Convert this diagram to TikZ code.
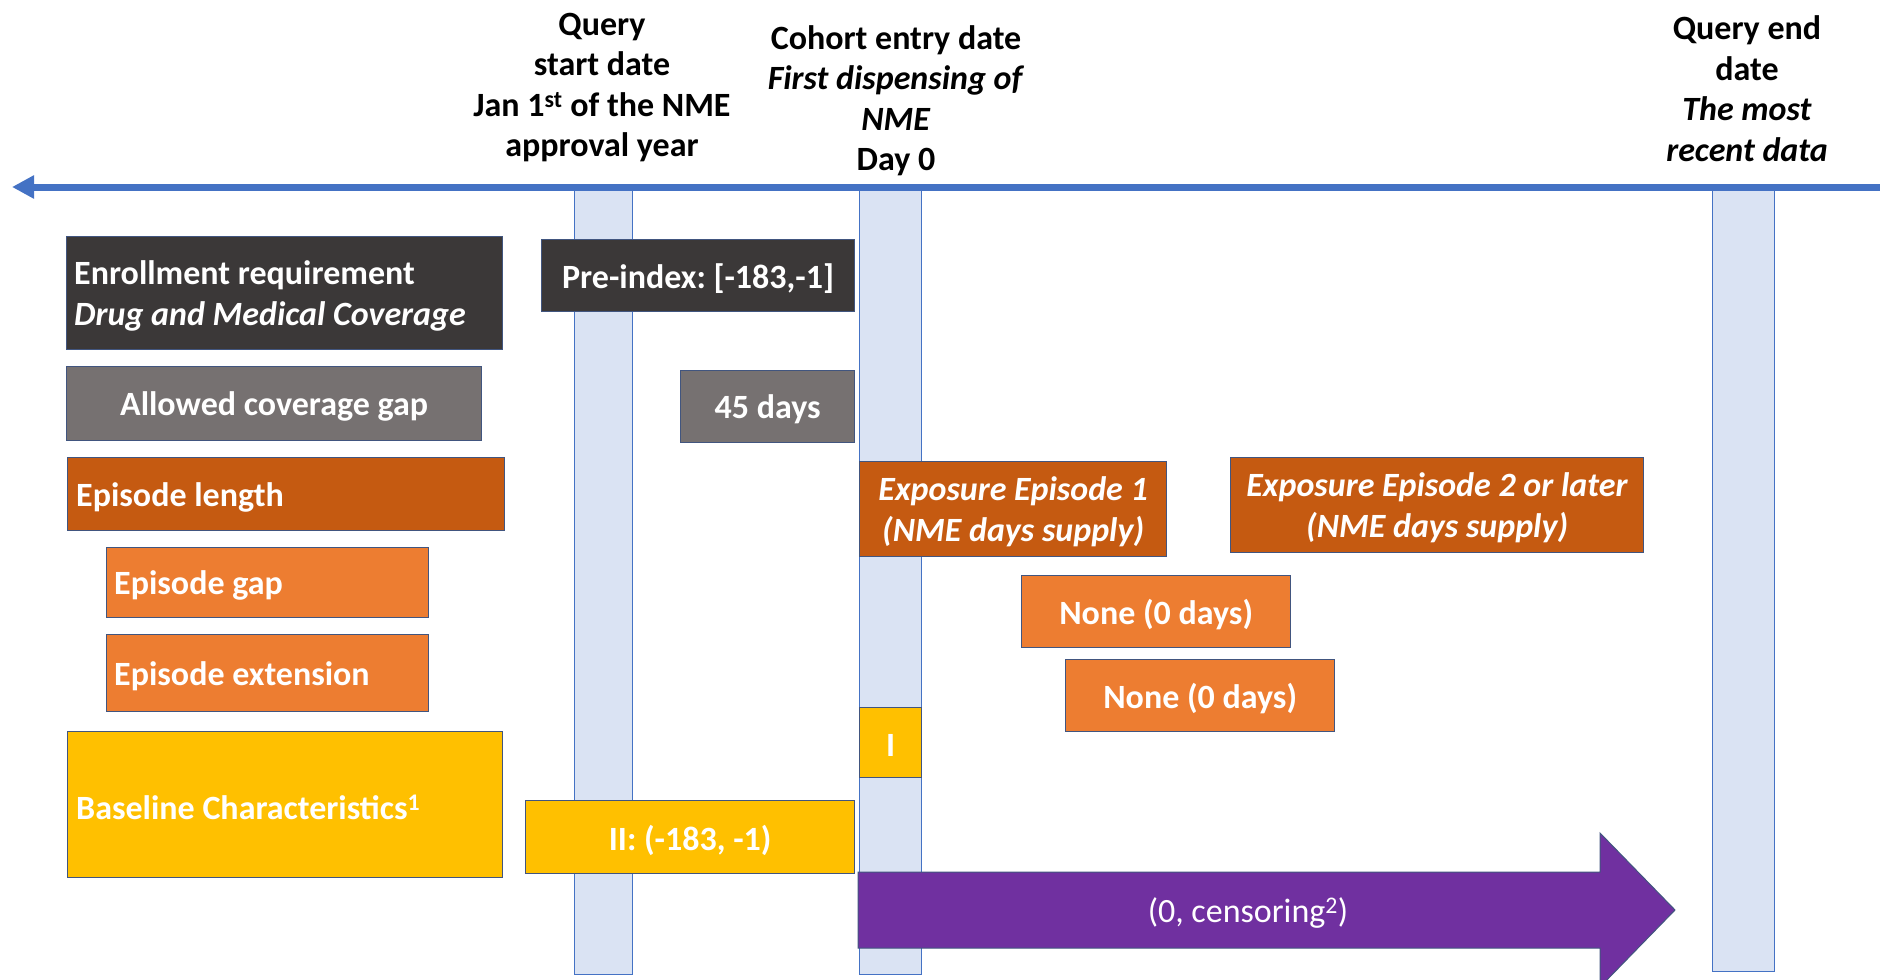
\documentclass[tikz,border=0pt]{standalone}
\usepackage{fontspec}
\setmainfont{Carlito}
\usetikzlibrary{arrows.meta}
\definecolor{darkbox}{HTML}{3B3838}
\definecolor{graybox}{HTML}{767171}
\definecolor{rust}{HTML}{C55A11}
\definecolor{orangebox}{HTML}{ED7D31}
\definecolor{goldbox}{HTML}{FFC000}
\definecolor{purplebox}{HTML}{7030A0}
\definecolor{tlblue}{HTML}{4472C4}
\definecolor{barfill}{HTML}{DAE3F3}
\definecolor{bordc}{HTML}{41557F}
\tikzset{
  hdr/.style={align=center, font=\fontsize{34}{40.5}\selectfont\bfseries, inner sep=0pt, text=black},
  bx/.style={draw=bordc, line width=1.3pt, anchor=north west, inner sep=0pt},
  ctxt/.style={inner sep=0pt, text=white, align=center,
     font=\fontsize{34}{41}\selectfont\bfseries},
  ltxt/.style={ctxt, anchor=west, align=left},
  vbar/.style={draw=tlblue, line width=1pt, fill=barfill, anchor=north west, inner sep=0pt},
}
\begin{document}
\frenchspacing
\begin{tikzpicture}[x=1pt,y=-1pt]
\useasboundingbox (0,0) rectangle (1880,980);
% vertical bars
\node[vbar, minimum width=58, minimum height=787] (vb1) at (574,187) {};
\node[vbar, minimum width=62, minimum height=787] (vb2) at (859,187) {};
\node[vbar, minimum width=62, minimum height=784] (vb3) at (1712,187) {};
% timeline
\coordinate (tlR) at (1880,187);
\coordinate (tlL) at (12,187);
\draw[tlblue, line width=7pt, -{Triangle[length=22pt,width=22pt]}] (tlR) -- (tlL);
% headers
\node[hdr] (qstart) at (602,87.5) {Query\\start date\\Jan 1\textsuperscript{st} of the NME\\approval year};
\node[hdr] (cohort) at (896,100.5) {Cohort entry date\\\textit{First dispensing of}\\\textit{NME}\\Day 0};
\node[hdr] (qend) at (1747,88.5) {Query end\\date\\\textit{The most}\\\textit{recent data}};
% boxes
\node[bx, fill=darkbox, minimum width=436, minimum height=113] (enroll) at (66,236) {};
\node[bx, fill=darkbox, minimum width=313, minimum height=72] (preidx) at (541,239) {};
\node[bx, fill=graybox, minimum width=415, minimum height=74] (allowed) at (66,366) {};
\node[bx, fill=graybox, minimum width=174, minimum height=72] (d45) at (680,370) {};
\node[bx, fill=rust, minimum width=437, minimum height=73] (eplen) at (67,457) {};
\node[bx, fill=rust, minimum width=307, minimum height=95] (exp1) at (859,461) {};
\node[bx, fill=rust, minimum width=413, minimum height=95] (exp2) at (1230,457) {};
\node[bx, fill=orangebox, minimum width=322, minimum height=70] (epgap) at (106,547) {};
\node[bx, fill=orangebox, minimum width=269, minimum height=72] (none1) at (1021,575) {};
\node[bx, fill=orangebox, minimum width=322, minimum height=77] (epext) at (106,634) {};
\node[bx, fill=orangebox, minimum width=269, minimum height=72] (none2) at (1065,659) {};
\node[bx, fill=goldbox, minimum width=62, minimum height=70] (ibox) at (859,707) {};
\node[bx, fill=goldbox, minimum width=435, minimum height=146] (baseline) at (67,731) {};
\node[bx, fill=goldbox, minimum width=329, minimum height=73] (ii) at (525,800) {};
% box texts
\node[ltxt] (enrollT) at ([xshift=8pt,yshift=-3pt]enroll.west) {Enrollment requirement\\\textit{Drug and Medical Coverage}};
\node[ctxt] (preidxT) at ([yshift=-3pt]preidx.center) {Pre-index: [-183,-1]};
\node[ctxt] (allowedT) at ([yshift=-3pt]allowed.center) {Allowed coverage gap};
\node[ctxt] (d45T) at ([yshift=-3pt]d45.center) {45 days};
\node[ltxt] (eplenT) at ([xshift=9pt,yshift=-3pt]eplen.west) {Episode length};
\node[ctxt] (exp1T) at ([yshift=-3pt]exp1.center) {\textit{Exposure Episode 1}\\\textit{(NME days supply)}};
\node[ctxt] (exp2T) at ([yshift=-3pt]exp2.center) {\textit{Exposure Episode 2 or later}\\\textit{(NME days supply)}};
\node[ltxt] (epgapT) at ([xshift=8pt,yshift=-3pt]epgap.west) {Episode gap};
\node[ctxt] (none1T) at ([yshift=-3pt]none1.center) {None (0 days)};
\node[ltxt] (epextT) at ([xshift=8pt,yshift=-3pt]epext.west) {Episode extension};
\node[ctxt] (none2T) at ([yshift=-3pt]none2.center) {None (0 days)};
\node[ctxt] (iboxT) at ([yshift=-3pt]ibox.center) {I};
\node[ltxt] (baselineT) at ([xshift=9pt,yshift=-3pt]baseline.west) {Baseline Characteristics\textsuperscript{1}};
\node[ctxt] (iiT) at ([yshift=-3pt]ii.center) {II: (-183, -1)};
% purple arrow
\draw[draw=bordc, line width=1pt, fill=purplebox]
  (858,872) -- (1600,872) -- (1600,833) -- (1675,910) -- (1600,987) -- (1600,948) -- (858,948) -- cycle;
\node[text=white, font=\fontsize{34}{40}\selectfont, inner sep=0pt] (cens) at (1248,913) {(0, censoring\textsuperscript{2})};
\end{tikzpicture}
\end{document}
